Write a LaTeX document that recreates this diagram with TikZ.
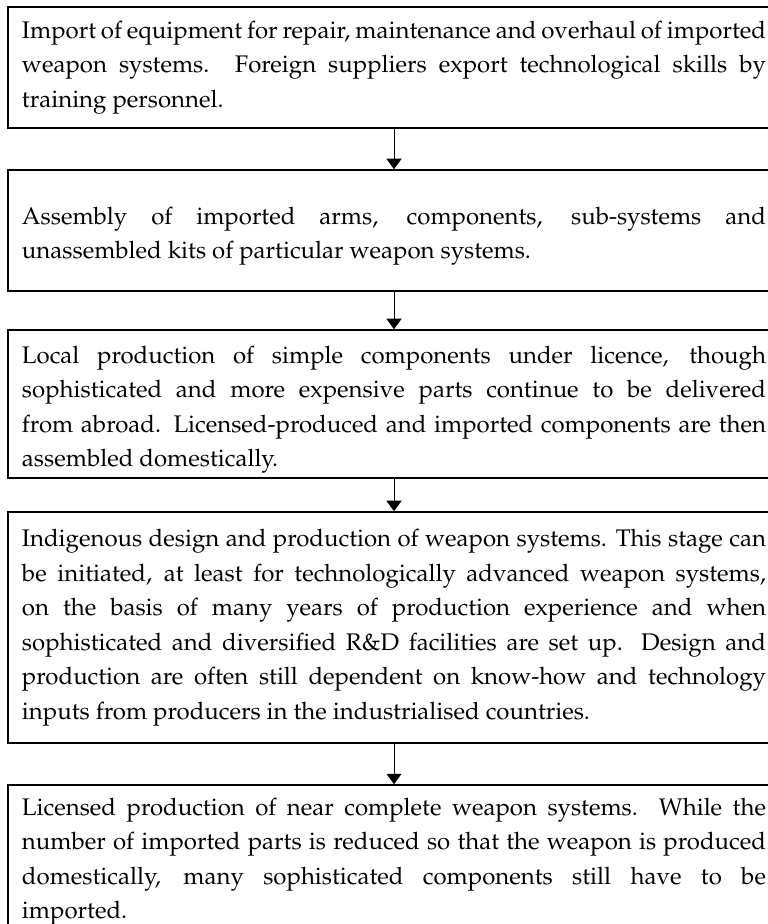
\documentclass[tikz,border=0pt]{standalone}
\usepackage[T1]{fontenc}
\usepackage{mathpazo}
\usepackage{tikz}
\usetikzlibrary{arrows.meta}

\hyphenpenalty=10000
\newcommand\stagefont{\fontsize{9.6}{13.8}\selectfont
  \spaceskip=0.25em plus 0.3em minus 0.14em\relax}
\newcommand\topgap{\rule{0pt}{11.5pt}}

\begin{document}
\begin{tikzpicture}[x=0.4pt, y=-0.4pt,
    stage/.style={draw, line width=0.6pt, rectangle, text width=297.6pt,
      inner xsep=5.6pt, inner ysep=0pt, align=justify, font=\stagefont},
    flow/.style={line width=0.4pt, -{Triangle[width=6pt,length=4.2pt]}}]
    \useasboundingbox (0,0) rectangle (767,924);
    \node[stage, minimum height=48.4pt] (imp) at (394,67.5)
      {Import of equipment for repair, maintenance and overhaul of imported\linebreak
       weapon systems.  Foreign suppliers export technological skills by\linebreak
       training personnel.};
    \node[stage, minimum height=48.4pt] (asm) at (394,230.5)
      {\topgap Assembly of imported arms, components, sub-systems and\linebreak
       unassembled kits of particular weapon systems.};
    \node[stage, minimum height=59.2pt] (loc) at (394,404)
      {\topgap Local production of simple components under licence, though\linebreak
       sophisticated and more expensive parts continue to be delivered\linebreak
       from abroad.  Licensed-produced and imported components are then\linebreak
       assembled domestically.};
    \node[stage, minimum height=92.4pt] (ind) at (394,627.5)
      {Indigenous design and production of weapon systems.  This stage can\linebreak
       be initiated, at least for technologically advanced weapon systems,\linebreak
       on the basis of many years of production experience and when\linebreak
       sophisticated and diversified R\&D facilities are set up.  Design and\linebreak
       production are often still dependent on know-how and technology\linebreak
       inputs from producers in the industrialised countries.};
    \node[stage, minimum height=61.2pt] (lic) at (394,861.5)
      {Licensed production of near complete weapon systems.  While the\linebreak
       number of imported parts is reduced so that the weapon is produced\linebreak
       domestically, many sophisticated components still have to be\linebreak
       imported.};
    \draw[flow] (imp) -- (asm);
    \draw[flow] (asm) -- (loc);
    \draw[flow] (loc) -- (ind);
    \draw[flow] (ind) -- (lic);
\end{tikzpicture}
\end{document}
